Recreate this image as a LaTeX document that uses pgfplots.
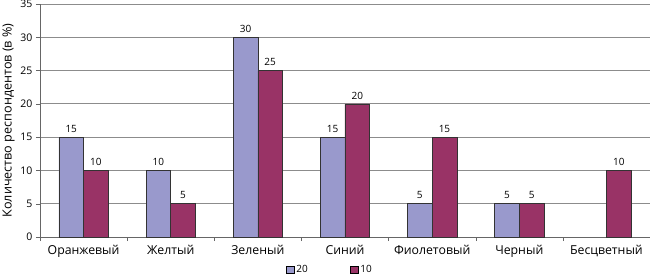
\documentclass[border=0pt]{standalone}
\usepackage{pgfplots}
\pgfplotsset{compat=1.18}
\usepackage{fontspec}
\setmainfont{Open Sans}
\definecolor{cA}{RGB}{153,153,204}
\definecolor{cB}{RGB}{153,51,102}
\begin{document}
\begin{tikzpicture}[x=1pt,y=1pt]
\begin{axis}[
  at={(0pt,0pt)}, anchor=south west,
  scale only axis, width=610pt, height=233pt,
  ybar=0pt, bar width=24.7pt,
  xmin=-0.5, xmax=6.5, ymin=0, ymax=35,
  xtick={0,...,6},
  xticklabels={Оранжевый,Желтый,Зеленый,Синий,Фиолетовый,Черный,Бесцветный},
  x tick label style={font=\fontsize{12.3}{14}\selectfont, yshift=-1pt},
  ytick={0,5,...,35},
  y tick label style={font=\fontsize{10.5}{12}\selectfont},
  /pgf/number format/assume math mode=true,
  axis x line*=bottom, axis y line*=left,
  axis line style={draw=gray!80!black, -},
  xtick style={draw=none},
  ytick style={draw=gray!80!black, thin},
  tick align=outside, major tick length=4pt,
  extra x ticks={-0.5,0.5,...,6.5}, extra x tick labels={},
  extra x tick style={grid=none, xtick style={draw=gray!80!black, thin}, major tick length=4pt},
  ymajorgrids, grid style={draw=gray!90, line width=0.8pt},
  ylabel={Количество респондентов (в \%)},
  ylabel style={font=\fontsize{12.6}{14}\selectfont, at={(axis description cs:0,0.5)}, anchor=center, yshift=31.5pt},
  nodes near coords,
  every node near coord/.append style={font=\fontsize{10}{11}\selectfont, black, yshift=1pt},
  legend style={at={(0.475,-0.105)}, anchor=north, draw=none, legend columns=2,
    font=\fontsize{10}{11}\selectfont, /tikz/every even column/.append style={column sep=40pt}},
  legend image code/.code={\draw[#1, draw=black] (0pt,-3.5pt) rectangle (8pt,4pt);},
]
\addplot[fill=cA, draw=black!80, line width=0.6pt] coordinates {(0,15) (1,10) (2,30) (3,15) (4,5) (5,5)};
\addplot[fill=cB, draw=black!80, line width=0.6pt] coordinates {(0,10) (1,5) (2,25) (3,20) (4,15) (5,5) (6,10)};
\legend{20,10}
\end{axis}
\pgfresetboundingbox
\path (-40pt,-39pt) rectangle (610pt,237pt);
\end{tikzpicture}
\end{document}
